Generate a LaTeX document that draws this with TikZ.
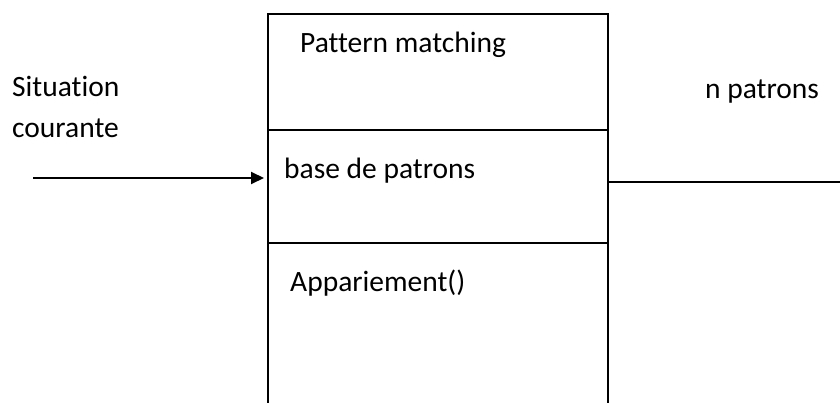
\documentclass[tikz,border=0pt]{standalone}
\usepackage{fontspec}
\setmainfont[Ligatures=NoCommon]{Carlito}
\usetikzlibrary{arrows.meta}
\begin{document}
\begin{tikzpicture}[x=1pt,y=-1pt,
  lbl/.style={anchor=base west,inner sep=0pt,font=\fontsize{29.5}{34}\selectfont},
  ln/.style={line width=2pt,black}]
\useasboundingbox (0,0) rectangle (840,403);
\fill[white] (0,0) rectangle (840,403);
\coordinate (btl) at (268,14);
\coordinate (btr) at (608,14);
\coordinate (bbl) at (268,403);
\coordinate (bbr) at (608,403);
\draw[ln] (bbl) -- (btl) -- (btr) -- (bbr);
\coordinate (d1l) at (268,130);
\coordinate (d1r) at (608,130);
\coordinate (d2l) at (268,243);
\coordinate (d2r) at (608,243);
\draw[ln] (d1l) -- (d1r);
\draw[ln] (d2l) -- (d2r);
\node[lbl] (pm) at (300,53) {Pattern matching};
\node[lbl] (bp) at (284,179) {base de patrons};
\node[lbl] (ap) at (290,291) {Appariement()};
\node[lbl] (s1) at (12,97) {Situation};
\node[lbl] (s2) at (12,138) {courante};
\node[lbl] (np) at (705,99) {n patrons};
\coordinate (ain) at (33,178);
\coordinate (aend) at (264,178);
\draw[ln,-{Triangle[length=13pt,width=12pt]}] (ain) -- (aend);
\coordinate (rin) at (607,182);
\coordinate (rout) at (840,182);
\draw[ln] (rin) -- (rout);
\end{tikzpicture}
\end{document}
